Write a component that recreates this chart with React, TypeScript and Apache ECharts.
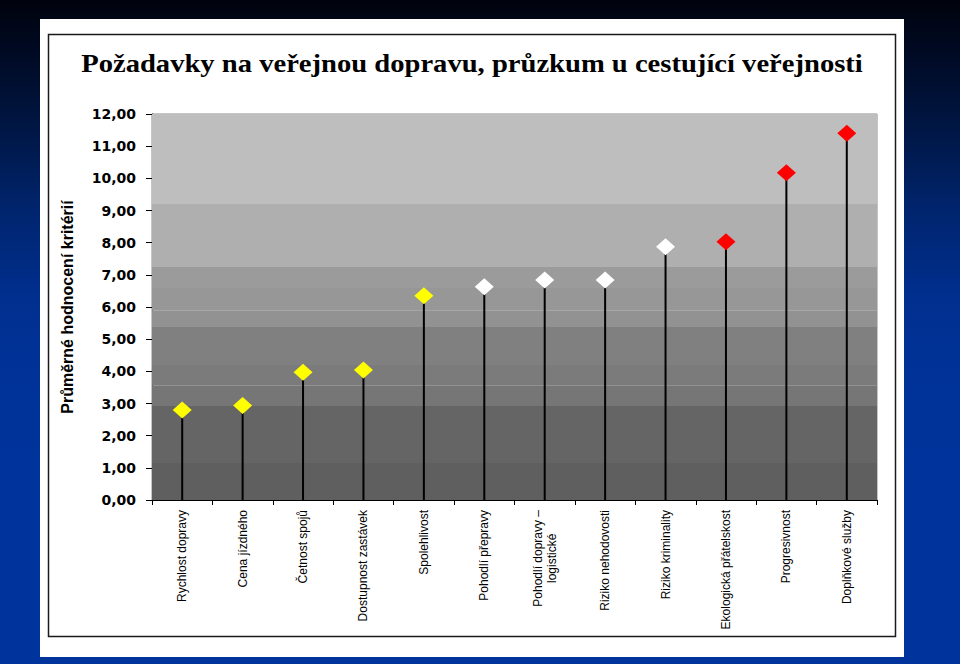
import React, { useEffect, useRef } from "react";
import * as echarts from "echarts";

const titleText = "Požadavky na veřejnou dopravu, průzkum u cestující veřejnosti";
const yAxisTitle = "Průměrné hodnocení kritérií";

const categories = [
  "Rychlost dopravy",
  "Cena jízdného",
  "Četnost spojů",
  "Dostupnost zastávek",
  "Spolehlivost",
  "Pohodlí přepravy",
  "Pohodlí dopravy –\nlogistické",
  "Riziko nehodovosti",
  "Riziko kriminality",
  "Ekologická přátelskost",
  "Progresivnost",
  "Doplňkové služby",
];

const values = [2.8, 2.94, 3.97, 4.04, 6.35, 6.63, 6.84, 6.84, 7.87, 8.03, 10.17, 11.4];

// priority group of each criterion (1 = yellow, 2 = white, 3 = red)
const groups = [1, 1, 1, 1, 1, 2, 2, 2, 2, 3, 3, 3];

const yMin = 0;
const yMax = 12;
const yInterval = 1;

// background band edges (axis values) and their greys
const bandEdges = [0, 1.15, 2.92, 3.57, 4.2, 5.38, 5.9, 6.59, 7.24, 9.2, 12];
const bandColors = [
  "#5f5f5f",
  "#656565",
  "#767676",
  "#7b7b7b",
  "#808080",
  "#929292",
  "#979797",
  "#9b9b9b",
  "#afafaf",
  "#bebebe",
];

const groupColors: Record<number, string> = { 1: "#ffff00", 2: "#ffffff", 3: "#ff0000" };

export default function App() {
  const ref = useRef<HTMLDivElement>(null);

  useEffect(() => {
    if (!ref.current) return;
    const chart = echarts.init(ref.current, null, { renderer: "svg" });

    const bands = bandColors.map((c, i) => [
      { yAxis: bandEdges[i], itemStyle: { color: c, borderWidth: 0, opacity: 1 } },
      { yAxis: bandEdges[i + 1] },
    ]);

    const option: any = {
      animation: false,
      backgroundColor: "transparent",
      graphic: [
        {
          type: "rect",
          z: -10,
          shape: { x: 40, y: 19, width: 864, height: 638 },
          style: { fill: "#ffffff" },
          silent: true,
        },
        {
          type: "rect",
          z: -9,
          shape: { x: 48.5, y: 34.5, width: 847, height: 602 },
          style: { fill: "#ffffff", stroke: "#1a1a1a", lineWidth: 1.5 },
          silent: true,
        },
        {
          type: "text",
          z: 10,
          x: 472,
          y: 63,
          scaleX: 1.1,
          style: {
            text: titleText,
            font: 'bold 26px "Liberation Serif"',
            fill: "#000000",
            align: "center",
            verticalAlign: "middle",
            textAlign: "center",
            textVerticalAlign: "middle",
          },
        },
      ],
      grid: {
        left: 152,
        right: 83,
        top: 114,
        bottom: 164,
        show: true,
        backgroundColor: "transparent",
        borderColor: "#8a8a8a",
        borderWidth: 1,
      },
      xAxis: {
        type: "category",
        data: categories,
        boundaryGap: true,
        axisLine: { show: true, lineStyle: { color: "#000", width: 1 } },
        axisTick: { show: true, alignWithLabel: false, interval: 0, length: 5, lineStyle: { color: "#000" } },
        axisLabel: {
          interval: 0,
          rotate: 90,
          margin: 10,
          formatter: (v: string) =>
            v
              .split("\n")
              .map((l) => "{c|" + l + "}")
              .join("\n"),
          rich: {
            c: {
              align: "center",
              fontFamily: '"Liberation Sans", Arial',
              fontSize: 12,
              color: "#000",
              lineHeight: 14,
            },
          },
        },
        splitLine: { show: false },
      },
      yAxis: {
        type: "value",
        min: yMin,
        max: yMax,
        interval: yInterval,
        name: yAxisTitle,
        nameLocation: "middle",
        nameRotate: 90,
        nameGap: 77,
        nameTextStyle: {
          fontFamily: '"Liberation Sans", Arial',
          fontWeight: "bold",
          fontSize: 16,
          color: "#000",
        },
        axisLine: { show: true, lineStyle: { color: "#000", width: 1 } },
        axisTick: { show: true, length: 6, lineStyle: { color: "#000" } },
        axisLabel: {
          margin: 16,
          formatter: (v: number) => v.toFixed(2).replace(".", ","),
          fontFamily: '"DejaVu Sans"',
          fontWeight: "bold",
          fontSize: 14,
          color: "#000",
        },
        splitLine: { show: false },
      },
      series: [
        {
          type: "line",
          data: [],
          z: 0,
          silent: true,
          markArea: { silent: true, data: bands },
        },
        {
          type: "bar",
          data: values,
          barWidth: 2,
          z: 2,
          itemStyle: { color: "#000000" },
          silent: true,
        },
        {
          type: "scatter",
          data: values.map((v, i) => ({
            value: v,
            itemStyle: { color: groupColors[groups[i]], opacity: 1 },
          })),
          symbol: "diamond",
          symbolSize: [19, 17],
          itemStyle: { opacity: 1 },
          z: 3,
          silent: true,
        },
      ],
    };

    chart.setOption(option);
    return () => chart.dispose();
  }, []);

  return (
    <div
      style={{
        position: "fixed",
        left: 0,
        top: 0,
        width: 960,
        height: 664,
        background:
          "linear-gradient(to bottom, #00030c 0%, #000a24 8%, #001540 18%, #00256f 32%, #002f8f 45%, #00339a 60%, #00339c 100%)",
      }}
    >
      <div ref={ref} style={{ width: 960, height: 664 }} />
    </div>
  );
}
